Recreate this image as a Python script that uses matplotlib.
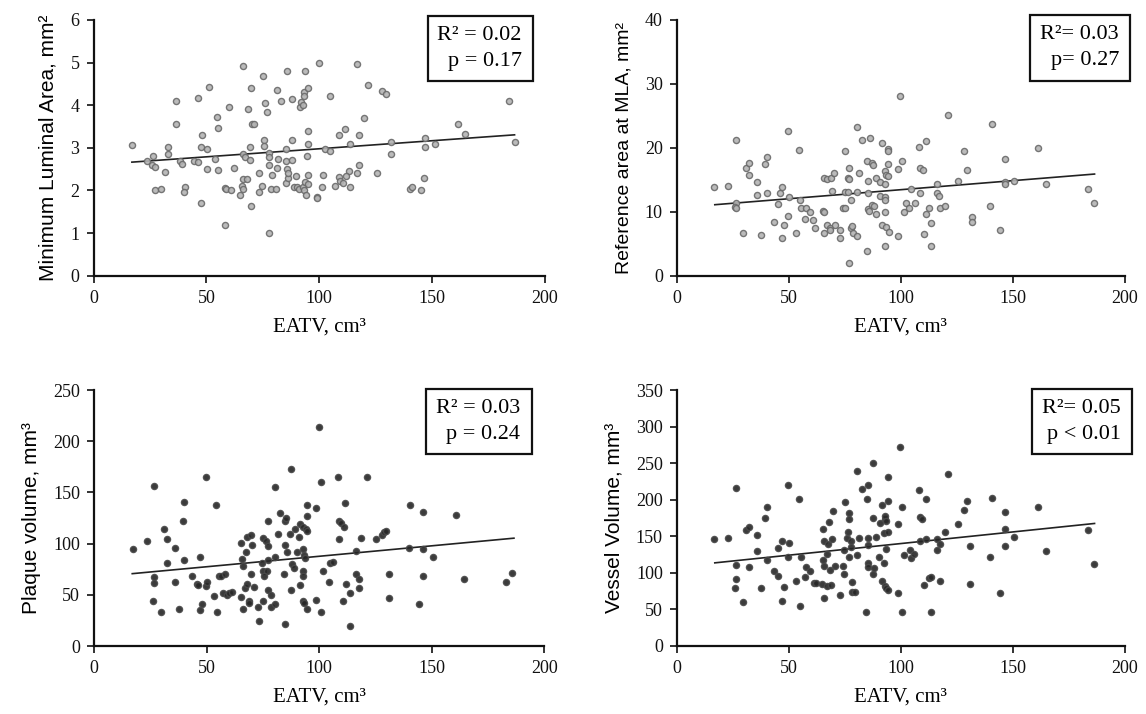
import numpy as np
import matplotlib.pyplot as plt
from matplotlib.patches import Rectangle

plt.rcParams['font.family'] = ['Liberation Serif', 'DejaVu Serif']

# Minimum luminal area vs EATV
mla_x = [17.0, 23.9, 26.5, 26.0, 27.3, 27.4, 30.1, 31.6, 32.9, 32.9, 36.4, 36.4, 38.5, 39.1,
         40.6, 40.0, 44.3, 46.2, 46.3, 47.5, 48.2, 50.3, 50.3, 47.6, 51.0, 53.8, 54.6, 55.3,
         55.2, 58.3, 58.7, 61.1, 58.1, 60.2, 62.2, 65.0, 65.8, 66.2, 66.4, 66.4, 67.0, 66.4,
         67.8, 68.4, 69.2, 69.3, 69.9, 70.4, 71.1, 69.9, 73.3, 73.3, 74.6, 75.2, 75.4, 75.4,
         75.9, 76.7, 77.6, 77.7, 77.6, 77.6, 78.6, 78.9, 80.8, 81.1, 81.7, 81.1, 83.0, 85.1,
         85.1, 85.3, 85.5, 85.8, 86.3, 86.3, 87.9, 87.8, 88.0, 88.8, 89.5, 90.0, 91.2, 91.5,
         92.0, 92.6, 92.9, 93.4, 93.4, 93.5, 93.4, 93.7, 94.1, 94.4, 94.8, 95.0, 95.0, 95.1,
         95.1, 98.8, 99.1, 99.7, 101.3, 101.8, 102.5, 104.7, 104.7, 116.5, 121.4, 128.0, 129.6,
         119.8, 111.5, 108.7, 117.7, 113.7, 131.6, 131.6, 147.0, 146.9, 151.2, 161.6, 164.4,
         183.9, 186.7, 117.7, 116.5, 113.0, 111.8, 108.7, 109.4, 110.3, 106.8, 113.7, 125.5,
         140.1, 140.9, 145.0, 146.5]
mla_y = [3.07, 2.70, 2.82, 2.60, 2.56, 2.00, 2.03, 2.44, 3.03, 2.86, 4.11, 3.55, 2.68, 2.62,
         2.09, 1.96, 2.70, 4.18, 2.66, 3.03, 3.29, 2.97, 2.51, 1.71, 4.43, 2.73, 3.73, 3.47,
         2.47, 2.05, 2.03, 2.00, 1.19, 3.95, 2.52, 1.89, 2.11, 2.04, 4.92, 2.85, 2.79, 2.28,
         2.27, 3.91, 3.01, 2.71, 4.40, 3.55, 3.55, 1.63, 2.40, 1.96, 2.11, 4.69, 3.18, 3.04,
         4.06, 3.85, 2.87, 2.78, 2.59, 1.01, 2.03, 2.37, 2.03, 2.53, 2.74, 4.36, 4.11, 2.68,
         2.97, 2.18, 2.50, 4.80, 2.29, 2.41, 4.14, 3.18, 2.71, 2.09, 2.33, 2.09, 2.04, 3.95,
         4.08, 2.09, 4.01, 4.30, 4.22, 4.80, 2.01, 2.19, 1.89, 2.81, 4.40, 3.40, 3.08, 2.37,
         2.14, 1.84, 1.82, 4.98, 2.07, 2.37, 2.97, 2.92, 4.22, 4.96, 4.47, 4.33, 4.26,
         3.69, 3.44, 3.29, 3.29, 3.10, 3.14, 2.86, 3.22, 3.03, 3.08, 3.55, 3.33,
         4.11, 3.14, 2.59, 2.40, 2.45, 2.35, 2.31, 2.21, 2.17, 2.11, 2.08, 2.41,
         2.03, 2.07, 2.00, 2.29]

# Reference area at MLA vs EATV
ref_x = [16.8, 23.1, 26.6, 26.6, 26.1, 26.6, 29.4, 30.9, 32.3, 32.2, 35.9, 35.8, 37.7, 40.1,
         39.3, 40.1, 43.5, 45.4, 46.1, 46.9, 47.8, 46.9, 49.7, 49.7, 50.3, 53.3, 54.6, 55.2,
         55.3, 57.3, 57.9, 59.3, 61.0, 61.7, 65.4, 65.7, 65.6, 65.6, 67.2, 68.7, 70.0, 69.4,
         67.2, 68.6, 68.4, 70.6, 72.8, 72.8, 74.2, 75.1, 74.9, 75.1, 76.6, 76.9, 76.3, 76.9,
         77.6, 78.0, 78.3, 78.8, 80.6, 77.0, 80.4, 81.3, 80.6, 82.8, 84.9, 84.9, 85.5, 85.5,
         85.3, 85.8, 86.2, 87.2, 87.7, 87.2, 88.0, 89.0, 89.0, 90.6, 90.6, 91.7, 91.7, 92.9,
         93.2, 92.9, 93.0, 93.0, 92.9, 93.0, 93.6, 94.1, 94.4, 94.5, 94.5, 94.7, 98.8, 98.8,
         99.5, 100.7, 101.3, 102.2, 103.9, 104.6, 106.2, 108.3, 108.6, 109.8, 111.3, 108.6,
         110.5, 111.3, 112.6, 113.5, 113.5, 116.2, 116.2, 117.2, 117.5, 119.7, 121.2, 125.4,
         128.3, 129.5, 131.6, 131.6, 139.9, 140.8, 144.2, 146.4, 146.4, 146.4, 150.6, 161.1,
         164.7, 183.5, 186.4]
ref_y = [13.8, 14.1, 21.2, 11.4, 10.8, 10.6, 6.7, 16.8, 17.7, 15.8, 14.6, 12.6, 6.4, 18.5,
         17.5, 12.9, 8.4, 11.2, 13.0, 13.8, 7.9, 5.9, 22.7, 9.3, 12.3, 6.7, 19.7, 11.8,
         10.6, 8.9, 10.6, 9.9, 8.7, 7.5, 10.1, 9.9, 6.7, 15.3, 15.1, 15.3, 16.0, 13.3,
         7.9, 7.4, 7.1, 7.9, 7.2, 5.9, 10.6, 10.6, 19.5, 13.1, 13.1, 16.8, 15.3, 15.1,
         11.8, 7.4, 7.7, 6.7, 6.2, 2.0, 23.2, 16.0, 13.1, 21.2, 3.8, 18.0, 14.8, 12.9,
         10.4, 10.1, 21.6, 17.7, 17.3, 11.1, 10.9, 15.3, 9.7, 14.6, 12.4, 20.7, 7.9, 16.3,
         15.8, 14.3, 12.3, 11.8, 10.0, 4.7, 7.6, 15.6, 19.8, 19.5, 17.5, 6.9, 16.7, 6.2,
         28.1, 18.0, 9.9, 11.4, 10.6, 13.6, 11.4, 20.2, 16.8, 16.5, 21.0, 13.0,
         6.5, 9.7, 10.6, 8.2, 4.7, 14.3, 12.9, 12.4, 10.6, 10.9, 25.1, 14.8,
         19.5, 16.5, 9.2, 8.4, 10.9, 23.7, 7.2, 18.3, 14.6, 14.3, 14.8, 20.0,
         14.3, 13.6, 11.4]

# Plaque volume vs EATV
plaque_x = [17.2, 23.4, 26.8, 26.8, 26.8, 26.0, 29.6, 31.1, 32.4, 32.5, 36.1, 36.1, 37.9, 40.2,
            39.5, 40.2, 43.6, 45.6, 46.0, 47.0, 47.9, 47.0, 49.9, 49.9, 50.4, 53.4, 54.1, 54.7,
            55.3, 56.6, 58.1, 57.4, 58.9, 59.8, 61.4, 65.2, 65.9, 66.0, 65.2, 66.0, 67.3, 67.2,
            68.0, 69.7, 70.3, 69.6, 67.8, 68.9, 68.9, 70.9, 72.9, 73.1, 74.4, 74.9, 75.1, 76.3,
            77.1, 77.1, 77.2, 75.1, 76.9, 75.6, 77.4, 78.4, 78.4, 80.6, 80.5, 80.6, 81.5, 82.8,
            84.9, 85.4, 84.9, 85.6, 84.6, 84.9, 87.6, 87.0, 87.6, 88.0, 88.8, 89.1, 90.2, 91.0,
            91.7, 92.9, 93.0, 93.3, 93.6, 93.0, 92.9, 91.7, 93.0, 93.3, 94.7, 94.5, 94.5, 94.1,
            94.7, 98.8, 98.8, 99.8, 100.7, 100.7, 101.5, 104.3, 104.7, 106.2, 108.4, 108.7,
            109.5, 111.1, 111.4, 108.7, 111.8, 113.6, 110.7, 113.6, 116.3, 116.3, 117.8, 117.8,
            118.8, 121.3, 125.1, 127.7, 128.7, 129.6, 130.9, 130.9, 139.9, 140.5, 146.3, 146.3,
            146.3, 144.2, 150.6, 160.9, 164.4, 183.1, 185.8]
plaque_y = [94.5, 102.6, 156.0, 67.8, 61.9, 44.0, 33.2, 114.7, 104.2, 80.8, 96.1, 62.2, 36.2, 140.7,
            122.5, 84.0, 68.7, 60.9, 59.6, 87.0, 41.0, 34.9, 165.5, 58.6, 62.9, 48.9, 137.5, 33.2,
            68.4, 68.4, 70.4, 51.8, 50.2, 51.5, 53.1, 101.0, 84.7, 78.5, 47.6, 36.2, 92.2, 56.4,
            106.5, 108.1, 98.7, 70.0, 60.3, 44.3, 41.7, 58.0, 37.8, 24.1, 80.8, 73.3, 105.2, 102.6,
            122.5, 97.7, 84.0, 44.0, 73.3, 68.7, 54.7, 49.8, 37.8, 155.7, 87.0, 40.7, 109.8, 130.3,
            122.1, 125.4, 98.7, 92.2, 70.0, 21.2, 173.0, 109.8, 54.4, 79.8, 75.9, 114.7, 92.2, 106.8,
            118.9, 116.6, 94.8, 88.9, 85.7, 73.3, 68.7, 59.6, 44.0, 41.7, 36.2, 127.4, 137.8, 114.3,
            112.7, 134.5, 45.0, 214.3, 160.6, 33.6, 73.3, 62.2, 80.8, 82.4, 165.5, 122.1,
            120.5, 116.0, 139.4, 104.2, 60.3, 51.5, 44.0, 19.5, 92.8, 70.0, 65.5, 56.4,
            105.2, 165.1, 104.2, 108.5, 111.1, 112.4, 70.0, 47.2, 96.1, 137.8, 131.3, 94.5,
            68.7, 41.0, 87.0, 128.3, 65.5, 62.2, 71.3]

# Vessel volume vs EATV
vessel_x = [16.8, 23.1, 26.6, 26.6, 26.6, 25.8, 29.4, 30.9, 32.2, 32.2, 35.8, 35.8, 37.7, 40.1,
            39.3, 40.1, 43.5, 45.4, 45.4, 46.9, 47.8, 46.9, 49.7, 50.3, 49.7, 53.3, 54.6, 55.3,
            55.2, 57.3, 57.9, 59.3, 61.3, 62.0, 65.4, 65.9, 65.1, 65.7, 65.0, 65.9, 66.9, 67.1,
            67.9, 67.6, 68.5, 68.8, 69.4, 69.7, 70.8, 72.8, 74.0, 74.8, 74.9, 74.8, 75.8, 76.6,
            76.9, 77.1, 77.1, 77.6, 77.7, 78.3, 78.2, 79.5, 80.4, 80.6, 81.2, 82.6, 84.9, 85.5,
            85.5, 85.5, 85.3, 85.3, 84.7, 87.4, 87.4, 87.4, 88.0, 88.9, 90.2, 90.7, 91.7, 92.3,
            92.9, 93.0, 93.2, 92.6, 91.8, 92.9, 93.2, 94.4, 94.5, 94.5, 94.5, 93.3, 98.8, 98.8,
            99.6, 100.7, 100.7, 101.3, 104.3, 104.6, 106.1, 108.3, 108.6, 109.5, 111.3, 108.6,
            111.3, 110.5, 112.6, 113.5, 113.5, 116.2, 116.2, 117.5, 117.5, 119.7, 121.2, 125.4,
            128.3, 129.5, 130.9, 130.9, 139.9, 140.8, 144.2, 146.4, 146.4, 146.4, 150.6, 161.1,
            164.7, 183.5, 186.4]
vessel_y = [145.7, 147.9, 216.4, 110.5, 91.3, 78.5, 59.4, 158.4, 163.0, 108.2, 151.6, 130.1, 78.5, 190.4,
            175.3, 117.4, 102.3, 95.9, 134.2, 143.4, 80.8, 61.2, 221.0, 141.1, 121.9, 89.0, 200.9, 121.9,
            54.8, 94.5, 108.2, 102.7, 86.3, 86.3, 160.7, 143.4, 117.4, 109.6, 84.5, 65.8, 125.6, 81.7,
            169.9, 138.8, 103.7, 83.1, 146.1, 184.9, 109.6, 69.9, 109.6, 97.7, 196.8, 131.1, 147.9, 156.2,
            182.6, 173.1, 121.9, 143.4, 134.7, 87.2, 74.0, 74.0, 239.7, 124.2, 147.9, 214.6, 200.9, 221.0,
            147.9, 137.9, 112.8, 107.8, 46.1, 251.1, 175.3, 98.6, 105.9, 149.3, 121.9, 168.9, 192.7, 153.9,
            174.4, 177.2, 132.4, 112.8, 88.6, 81.7, 78.5, 76.3, 198.2, 231.5, 156.2, 170.8, 166.7, 71.7,
            272.1, 190.4, 46.1, 124.2, 130.6, 119.6, 125.1, 213.7, 175.8, 174.4, 200.9, 143.4,
            147.0, 83.1, 93.2, 94.1, 46.1, 146.1, 130.6, 138.8, 89.0, 156.2, 235.6, 166.2,
            185.8, 198.6, 136.5, 84.9, 121.5, 203.2, 71.7, 184.0, 160.3, 136.5, 149.3, 190.0,
            130.1, 158.0, 112.3]

# fitted lines: intercept, slope
trend_intercept = [2.60, 10.62, 67.2, 108.2]
trend_slope = [0.00378, 0.0283, 0.2045, 0.3186]
trend_range = [17, 186.5]

y_labels = ['Minimum Luminal Area, mm\u00b2', 'Reference area at MLA, mm\u00b2',
            'Plaque volume, mm\u00b3', 'Vessel Volume, mm\u00b3']
y_max = [6, 40, 250, 350]
y_step = [1, 10, 50, 50]
stat_lines = [('R\u00b2 = 0.02', 'p = 0.17'), ('R\u00b2= 0.03', 'p= 0.27'),
              ('R\u00b2 = 0.03', 'p = 0.24'), ('R\u00b2= 0.05', 'p < 0.01')]

xs = [mla_x, ref_x, plaque_x, vessel_x]
ys = [mla_y, ref_y, plaque_y, vessel_y]

fig = plt.figure(figsize=(11.46, 7.14), dpi=100)
rects = [[0.0816, 0.6139, 0.394, 0.3581], [0.5905, 0.6139, 0.391, 0.3581],
         [0.0820, 0.0952, 0.393, 0.3585], [0.5905, 0.0956, 0.391, 0.3576]]
boxes = [(0.741, 0.761, 0.232, 0.255), (0.789, 0.763, 0.223, 0.257),
         (0.738, 0.750, 0.234, 0.254), (0.792, 0.750, 0.225, 0.254)]
marker_face = ['#b4b4b4', '#b4b4b4', '#262626', '#262626']
marker_edge = ['#6a6a6a', '#6a6a6a', '#4a4a4a', '#4a4a4a']
label_size = [15, 14, 15, 15]

for i in range(4):
    ax = fig.add_axes(rects[i])
    ax.plot(xs[i], ys[i], 'o', ms=4.4, mfc=marker_face[i], mec=marker_edge[i], mew=1.0,
            alpha=0.9, zorder=3)
    lx = np.array(trend_range)
    ax.plot(lx, trend_intercept[i] + trend_slope[i] * lx, color='#222222', lw=1.2, zorder=2)

    ax.set_xlim(0, 200)
    ax.set_ylim(0, y_max[i])
    ax.set_xticks(np.arange(0, 201, 50))
    ax.set_yticks(np.arange(0, y_max[i] + 1, y_step[i]))
    for s in ['top', 'right']:
        ax.spines[s].set_visible(False)
    for s in ['left', 'bottom']:
        ax.spines[s].set_linewidth(1.6)
        ax.spines[s].set_color('#111111')
    ax.tick_params(direction='out', length=5, width=1.2, labelsize=13, pad=5, colors='#111111')
    ax.set_xlabel('EATV, cm\u00b3', fontsize=15, labelpad=8)
    ax.set_ylabel(y_labels[i], fontsize=label_size[i],
                  family=['Liberation Sans', 'DejaVu Sans'], labelpad=9)

    bx, by, bw, bh = boxes[i]
    ax.add_patch(Rectangle((bx, by), bw, bh, transform=ax.transAxes, fill=False,
                           lw=1.6, ec='#111111', clip_on=False, zorder=5))
    ax.text(bx + bw - 0.025, by + bh * 0.70, stat_lines[i][0], transform=ax.transAxes,
            ha='right', va='center', fontsize=16)
    ax.text(bx + bw - 0.025, by + bh * 0.30, stat_lines[i][1], transform=ax.transAxes,
            ha='right', va='center', fontsize=16)

fig.savefig('out.png', dpi=100)
